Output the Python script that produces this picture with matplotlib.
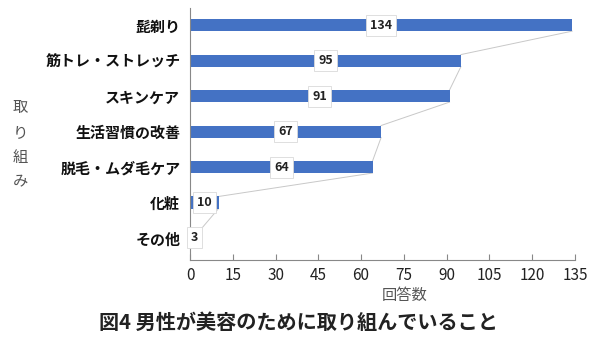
import matplotlib
matplotlib.use("Agg")
import matplotlib.pyplot as plt
import numpy as np

plt.rcParams['font.family'] = ['Noto Sans CJK JP', 'DejaVu Sans']

categories = ["髭剃り", "筋トレ・ストレッチ", "スキンケア", "生活習慣の改善",
              "脱毛・ムダ毛ケア", "化粧", "その他"]
counts = [134, 95, 91, 67, 64, 10, 3]
xticks = [0, 15, 30, 45, 60, 75, 90, 105, 120, 135]

bar_color = "#4472C4"
h = 0.34

fig = plt.figure(figsize=(6, 3.37), dpi=100)
ax = fig.add_axes([0.3167, 0.2285, 0.6416, 0.7475])

y = np.arange(len(categories))
ax.barh(y, counts, height=h, color=bar_color, zorder=2)

# series lines between bar ends
for i in range(len(counts) - 1):
    ax.plot([counts[i], counts[i + 1]], [y[i] + h / 2, y[i + 1] - h / 2],
            color="#c8c8c8", lw=0.7, zorder=1)

for yi, v in zip(y, counts):
    ax.text(v / 2, yi, str(v), ha="center", va="center", fontsize=9,
            fontweight="bold", color="#222222", zorder=3,
            bbox=dict(boxstyle="square,pad=0.32", fc="white", ec="#d9d9d9", lw=0.6))

ax.set_xlim(0, 135)
ax.set_ylim(6.62, -0.48)
ax.set_xticks(xticks)
ax.set_yticks(y)
ax.set_yticklabels(categories, fontsize=10.8, fontweight="bold", color="#111111")
ax.tick_params(axis="y", length=0, pad=7)
ax.tick_params(axis="x", direction="in", length=4, color="#888888",
               labelsize=11, pad=5, labelcolor="#222222")

for s in ["top", "right"]:
    ax.spines[s].set_visible(False)
ax.spines["left"].set_color("#888888")
ax.spines["bottom"].set_color("#888888")

fig.text(0.675, 0.122, "回答数", ha="center", va="center", fontsize=11, color="#555555")
fig.text(0.034, 0.57, "取\nり\n組\nみ", ha="center", va="center", fontsize=11,
         color="#555555", linespacing=1.6)
fig.text(0.497, 0.044, "図4 男性が美容のために取り組んでいること", ha="center", va="center",
         fontsize=14.5, fontweight="bold", color="#222222")

fig.savefig("out.png", dpi=100)
